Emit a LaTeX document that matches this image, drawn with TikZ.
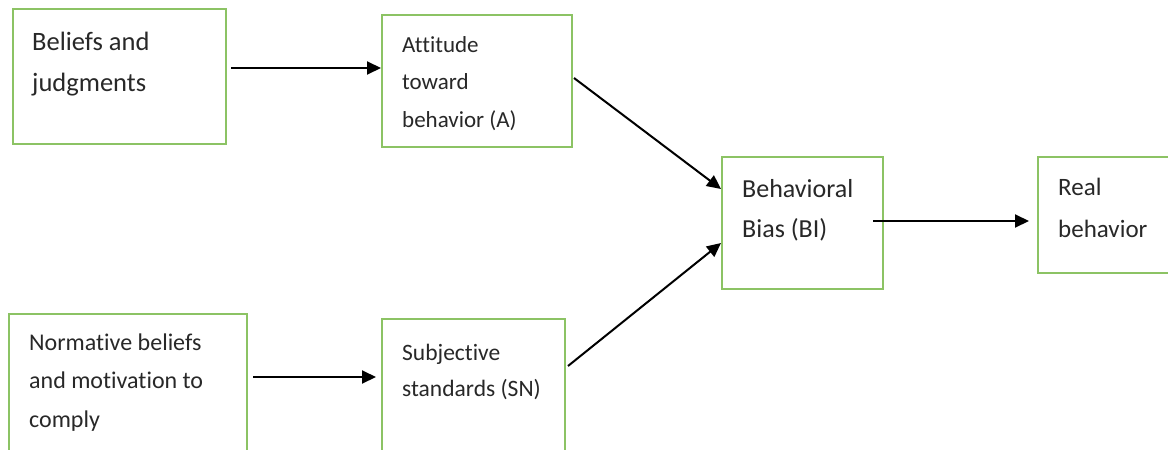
\documentclass[tikz,border=0pt]{standalone}
\usepackage{fontspec}
\setmainfont{Carlito}[Ligatures={NoCommon}]
\usetikzlibrary{arrows.meta,calc}
\definecolor{boxgreen}{RGB}{140,195,100}
\definecolor{inkgray}{RGB}{40,40,40}
\begin{document}
\begin{tikzpicture}[x=1pt,y=-1pt,
  box/.style={draw=boxgreen, line width=2pt, rectangle, inner sep=0pt, fill=white},
  txt/.style={anchor=north west, inner sep=0pt, align=left, text=inkgray},
  arr/.style={draw=black, line width=2pt, -{Triangle[length=14pt,width=13pt]}}]
\useasboundingbox (0,0) rectangle (1168,450);
\clip (0,0) rectangle (1168,450);

% boxes
\node[box, minimum width=213pt, minimum height=135pt] (b1) at (119.5,76.5) {};
\node[box, minimum width=190pt, minimum height=132pt] (b2) at (477,81) {};
\node[box, minimum width=161pt, minimum height=132pt] (b3) at (802.5,223) {};
\node[box, minimum width=162pt, minimum height=116pt] (b4) at (1119,215) {};
\node[box, minimum width=238pt, minimum height=176pt] (b5) at (128,402) {};
\node[box, minimum width=183pt, minimum height=171pt] (b6) at (473.5,404.5) {};

% labels
\node[txt, font=\fontsize{26.5}{41}\selectfont] (t1) at (32,28)
  {\rule{0pt}{22pt}Beliefs and\\judgments};
\node[txt, font=\fontsize{23}{37.5}\selectfont] (t2) at (402,30)
  {\rule{0pt}{22pt}Attitude\\toward\\behavior (A)};
\node[txt, font=\fontsize{26}{40}\selectfont] (t3) at (742,175)
  {\rule{0pt}{22pt}Behavioral\\Bias (BI)};
\node[txt, font=\fontsize{25}{42}\selectfont] (t4) at (1058,173)
  {\rule{0pt}{22pt}Real\\behavior};
\node[txt, font=\fontsize{24}{38.5}\selectfont] (t5) at (29,328)
  {\rule{0pt}{22pt}Normative beliefs\\and motivation to\\comply};
\node[txt, font=\fontsize{23.5}{36}\selectfont] (t6) at (402,338)
  {\rule{0pt}{22pt}Subjective\\standards (SN)};

% connectors
\draw[arr] ($(b1.north east)+(4,60)$) -- ($(b2.north west)+(0,54)$);
\draw[arr] ($(b2.north east)+(1,64)$) -- ($(b3.north west)+(0,33)$);
\draw[arr] ($(b6.north east)+(2,48)$) -- ($(b3.north west)+(0,87)$);
\draw[arr] ($(b3.north east)+(-11,65)$) -- ($(b4.north west)+(-8,65)$);
\draw[arr] ($(b5.north east)+(5,64)$) -- ($(b6.north west)+(-5,59)$);
\end{tikzpicture}
\end{document}
